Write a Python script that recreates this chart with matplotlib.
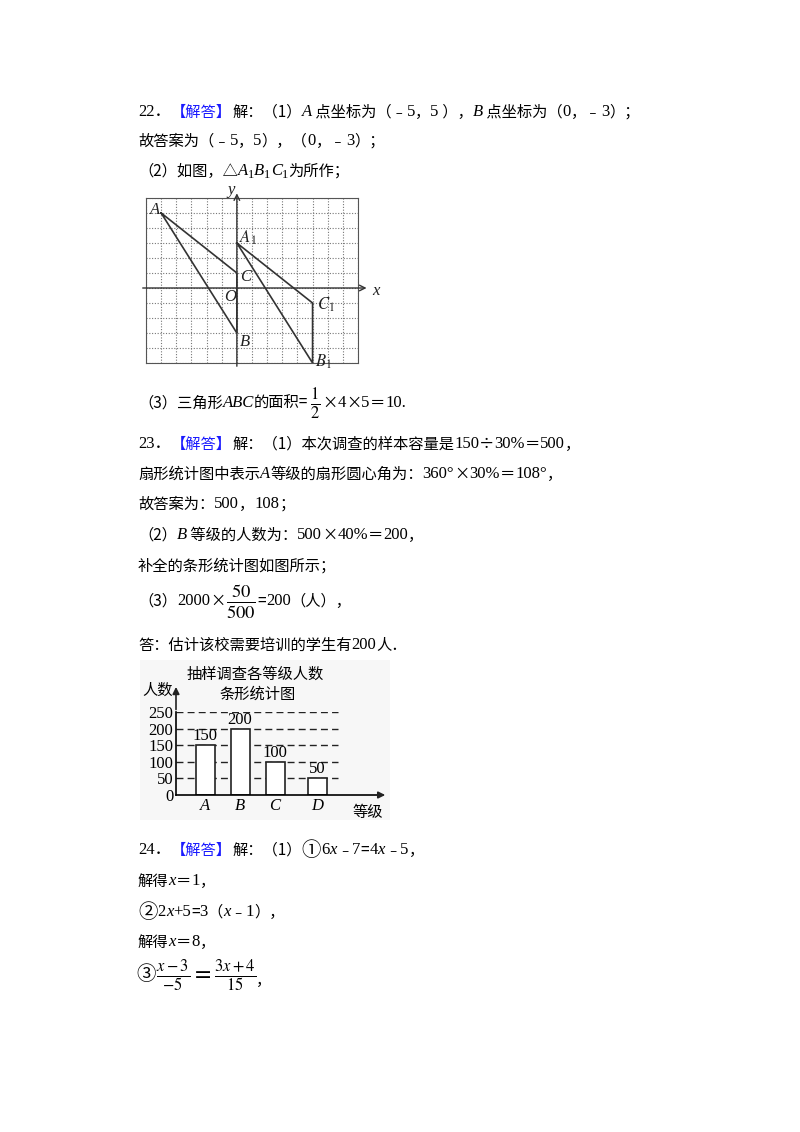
import matplotlib
matplotlib.use('Agg')
import matplotlib.pyplot as plt
from matplotlib.patches import Rectangle

W, H = 800, 1132
fig = plt.figure(figsize=(8, 11.32), dpi=100)
fig.patch.set_facecolor('white')
CJK = ['Noto Sans CJK SC', 'DejaVu Sans']
SER = ['Liberation Serif', 'Noto Sans CJK SC', 'DejaVu Serif']
plt.rcParams['mathtext.fontset'] = 'stix'
renderer = fig.canvas.get_renderer()
FS = 11

def P(x, y):
    return x / W, 1 - y / H

def line(x, y, segs):
    for s in segs:
        if isinstance(s, str):
            s = (s, {})
        txt, kw = s
        k = dict(family=CJK, fontsize=FS, color='black')
        if kw.get('i'):
            k.update(family=SER, style='italic', fontsize=FS + 1)
        if kw.get('n'):
            k.update(family=SER, fontsize=FS + 1)
        if kw.get('m'):
            k.update(fontsize=FS + 3)
        if 'c' in kw:
            k['color'] = kw['c']
        if kw.get('sub'):
            k['fontsize'] = FS - 2
        yy = y + (4 if kw.get('sub') else 0)
        t = fig.text(*P(x, yy), txt, va='center', ha='left', **k)
        bb = t.get_window_extent(renderer)
        x += bb.width
    return x

I = {'i': True}; N = {'n': True}; B = {'c': '#1a1aff'}; S = {'sub': True, 'n': True}; M = {'m': True}

# ---- Problem 22 ----
line(138, 112, [('22．', N), ('【解答】', B), '解：（1）', ('A', I), ' 点坐标为（﹣', ('5', N), '，', ('5', N), ' ），',
                ('B', I), ' 点坐标为（', ('0', N), '，﹣', ('3', N), '）；'])
line(138, 141, ['故答案为（﹣', ('5', N), '，', ('5', N), '），（', ('0', N), '，﹣', ('3', N), '）；'])
line(138, 171, ['（2）如图，△', ('A', I), ('1', S), ('B', I), ('1', S), ('C', I), ('1', S), '为所作；'])

# grid figure
ax = fig.add_axes([146 / W, 1 - 363 / H, (358 - 146) / W, (363 - 198) / H])
ax.set_xlim(-6, 8); ax.set_ylim(-5, 6)
for v in range(-6, 9):
    ax.axvline(v, color='#777777', lw=0.8, ls=(0, (1, 1.5)))
for v in range(-5, 7):
    ax.axhline(v, color='#777777', lw=0.8, ls=(0, (1, 1.5)))
for sp in ax.spines.values():
    sp.set_color('#555555'); sp.set_linewidth(0.8)
ax.set_xticks([]); ax.set_yticks([])
ax.annotate('', xy=(8.75, 0), xytext=(-6.4, 0), annotation_clip=False,
            arrowprops=dict(arrowstyle='->', color='#333333', lw=1))
ax.annotate('', xy=(0, 6.5), xytext=(0, -5.4), annotation_clip=False,
            arrowprops=dict(arrowstyle='->', color='#333333', lw=1))
tri = {'A': (-5, 5), 'B': (0, -3), 'C': (0, 1)}
tri1 = {'A1': (0, 3), 'B1': (5, -5), 'C1': (5, -1)}
for t in (tri, tri1):
    pts = list(t.values()) + [list(t.values())[0]]
    ax.plot([p[0] for p in pts], [p[1] for p in pts], color='#333333', lw=1.2, clip_on=False)
lk = dict(family=SER, style='italic', fontsize=12, color='#222222')
ax.text(-5.4, 5.2, 'A', ha='center', va='center', **lk)
ax.text(0.5, -3.6, 'B', ha='center', va='center', **lk)
ax.text(0.55, 0.75, 'C', ha='center', va='center', **lk)
ax.text(-0.45, -0.6, 'O', ha='center', va='center', **lk)
ax.text(0.7, 3.35, r'$A_1$', ha='center', va='center', fontsize=12, color='#222222')
ax.text(5.85, -1.15, r'$C_1$', ha='center', va='center', fontsize=12, color='#222222')
ax.text(5.75, -4.9, r'$B_1$', ha='center', va='center', fontsize=12, color='#222222')
ax.text(9.2, -0.2, 'x', ha='center', va='center', **lk)
ax.text(-0.4, 6.55, 'y', ha='center', va='center', **lk)

x = line(138, 403, ['（3）三角形', ('ABC', I), '的面积='])
fig.text(*P(x + 1, 404), r'$\frac{1}{2}$', fontsize=17, va='center', ha='left')
line(x + 14, 403, ['×', ('4', N), '×', ('5', N), '＝', ('10.', N)])

# ---- Problem 23 ----
line(138, 444, [('23．', N), ('【解答】', B), '解：（1）本次调查的样本容量是', ('150', N), '÷', ('30%', N), '＝', ('500', N), '，'])
line(138, 474, ['扇形统计图中表示', ('A', I), '等级的扇形圆心角为：', ('360°', N), '×', ('30%', N), '＝', ('108°', N), '，'])
line(138, 504, ['故答案为：', ('500', N), '，', ('108', N), '；'])
line(138, 535, ['（2）', ('B', I), ' 等级的人数为：', ('500', N), '×', ('40%', N), '＝', ('200', N), '，'])
line(138, 566, ['补全的条形统计图如图所示；'])
x = line(138, 601, ['（3）', ('2000', N), '×'])
fig.text(*P(x + 1, 602), r'$\frac{50}{500}$', fontsize=19, va='center', ha='left')
line(x + 32, 601, ['=', ('200', N), '（人），'])
line(138, 645, ['答：估计该校需要培训的学生有', ('200', N), '人．'])

# bar chart
categories = ['A', 'B', 'C', 'D']
values = [150, 200, 100, 50]
yticks = [0, 50, 100, 150, 200, 250]
fig.patches.append(Rectangle(P(140, 820), 250 / W, 160 / H, transform=fig.transFigure,
                             facecolor='#f7f7f7', edgecolor='none', zorder=-5))
bx = fig.add_axes([176 / W, 1 - 795 / H, (378 - 176) / W, (795 - 712.3) / H])
bx.set_zorder(2)
bx.patch.set_alpha(0)
bx.set_xlim(0, 202); bx.set_ylim(0, 250)
pos = [29, 64, 99, 141]
bx.bar(pos, values, width=19, facecolor='white', edgecolor='#222222', lw=1.2, zorder=2)
for v in yticks[1:]:
    bx.plot([0, 162], [v, v], color='#222222', lw=1, ls=(0, (5, 3)), zorder=1)
for p, v in zip(pos, values):
    bx.text(p, v + 3, str(v), ha='center', va='bottom', family=SER, fontsize=12)
for s in ['top', 'right']:
    bx.spines[s].set_visible(False)
bx.spines['left'].set_linewidth(1.2); bx.spines['bottom'].set_linewidth(1.2)
bx.set_yticks(yticks); bx.set_yticklabels([str(v) for v in yticks], family=SER, fontsize=12)
bx.tick_params(length=0, pad=2)
bx.set_xticks(pos); bx.set_xticklabels(categories, family=SER, style='italic', fontsize=12)
bx.annotate('', xy=(212, 0), xytext=(200, 0), annotation_clip=False,
            arrowprops=dict(arrowstyle='-|>', color='#222222', lw=1.2))
bx.annotate('', xy=(0, 335), xytext=(0, 250), annotation_clip=False,
            arrowprops=dict(arrowstyle='-|>', color='#222222', lw=1.2))
fig.text(*P(255, 674), '抽样调查各等级人数', family=CJK, fontsize=11, ha='center', va='center')
fig.text(*P(258, 694), '条形统计图', family=CJK, fontsize=11, ha='center', va='center')
fig.text(*P(158, 690), '人数', family=CJK, fontsize=11, ha='center', va='center')
fig.text(*P(368, 812), '等级', family=CJK, fontsize=11, ha='center', va='center')

# ---- Problem 24 ----
line(138, 850, [('24．', N), ('【解答】', B), '解：（1）', ('①', M), ('6', N), ('x', I), '﹣', ('7', N), '=', ('4', N), ('x', I), '﹣', ('5', N), '，'])
line(138, 881, ['解得', ('x', I), '＝', ('1', N), '，'])
line(138, 912, [('②', M), ('2', N), ('x', I), ('+5', N), '=', ('3', N), '（', ('x', I), '﹣', ('1', N), '），'])
line(138, 942, ['解得', ('x', I), '＝', ('8', N), '，'])
x = line(136, 975, [('③', M)])
t = fig.text(*P(x, 976), r'$\frac{x-3}{-5}=\frac{3x+4}{15}$', fontsize=17, va='center', ha='left')
xe = t.get_window_extent(renderer).x1
fig.text(xe / W, 1 - 980 / H, '，', family=CJK, fontsize=FS, va='center')

fig.savefig('out.png', dpi=100, facecolor='white')
